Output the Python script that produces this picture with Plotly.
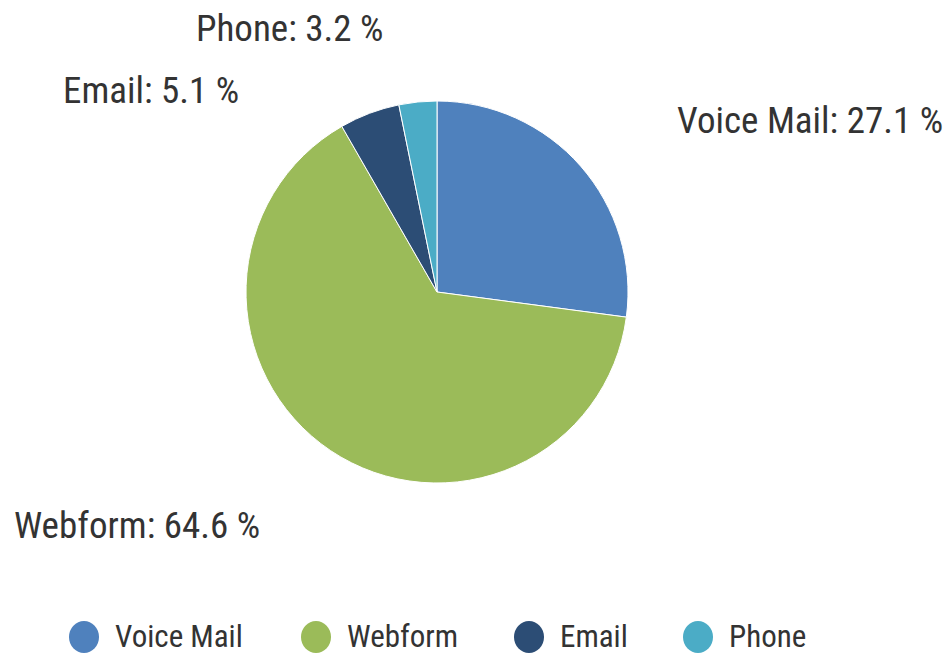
import plotly.graph_objects as go

W, H = 948, 654

channels = ["Voice Mail", "Webform", "Email", "Phone"]
shares = [27.1, 64.6, 5.1, 3.2]
colors = ["#4F81BD", "#9BBB59", "#2C4D75", "#4BACC6"]

FONT = "Roboto Condensed, Roboto, sans-serif"
TXT = "#333333"

fig = go.Figure()

# pie: center ~ (437, 292), radius ~191 px
cx, cy, r = 437, 292, 191
fig.add_trace(go.Pie(
    labels=channels,
    values=shares,
    sort=False,
    direction="clockwise",
    rotation=0,
    marker=dict(colors=colors, line=dict(color="white", width=1)),
    textinfo="none",
    hoverinfo="label+percent",
    showlegend=False,
    domain=dict(x=[(cx - r) / W, (cx + r) / W],
                y=[1 - (cy + r) / H, 1 - (cy - r) / H]),
))

# outside labels (text centres, px)
label_pos = {
    "Voice Mail": (810, 120),
    "Webform": (137, 525),
    "Email": (151, 90),
    "Phone": (290, 28),
}
for name, val in zip(channels, shares):
    x, y = label_pos[name]
    fig.add_annotation(
        x=x / W, y=1 - y / H, xref="paper", yref="paper",
        text=f"{name}: {val} %", showarrow=False,
        xanchor="center", yanchor="middle",
        font=dict(family=FONT, size=37, color=TXT),
    )

# legend with round markers
legend_x = [84, 316, 529, 698]
legend_y = 636
for name, col, lx in zip(channels, colors, legend_x):
    fig.add_shape(
        type="circle", xref="paper", yref="paper",
        x0=(lx - 15) / W, x1=(lx + 15) / W,
        y0=1 - (legend_y + 17) / H, y1=1 - (legend_y - 15) / H,
        fillcolor=col, line=dict(width=0),
    )
    fig.add_annotation(
        x=(lx + 29) / W, y=1 - legend_y / H, xref="paper", yref="paper",
        text=name, showarrow=False, xanchor="left", yanchor="middle",
        font=dict(family=FONT, size=31, color=TXT),
    )

fig.update_layout(
    width=W, height=H,
    margin=dict(l=0, r=0, t=0, b=0),
    paper_bgcolor="white",
    plot_bgcolor="white",
    showlegend=False,
)

fig.write_html("out.html", config={"displayModeBar": False},
               post_script="document.body.style.margin='0px';")
